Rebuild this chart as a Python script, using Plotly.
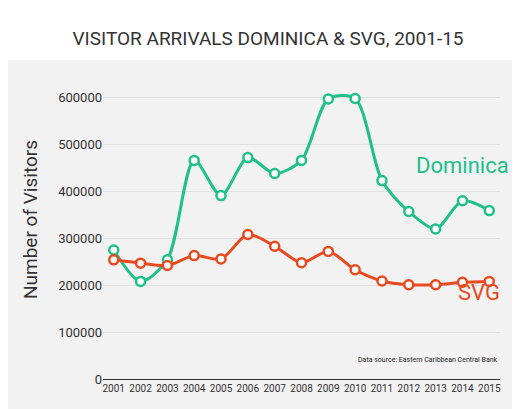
import plotly.graph_objects as go

years = list(range(2001, 2016))
dominica = [275000, 208000, 254000, 466000, 391000, 472000, 438000, 466000,
            597000, 598000, 423000, 357000, 320000, 380000, 359000]
svg = [254000, 247000, 242000, 263000, 256000, 308000, 283000, 248000,
       272000, 233000, 209000, 201000, 201000, 206000, 208000]

GREEN = "#20c08a"
RED = "#e84a1f"
BG = "#f2f2f2"

fig = go.Figure()
for name, vals, col in [("Dominica", dominica, GREEN), ("SVG", svg, RED)]:
    fig.add_trace(go.Scatter(
        x=years, y=vals, mode="lines+markers", name=name,
        line=dict(color=col, width=3, shape="spline", smoothing=0.8),
        marker=dict(size=9, color="white", line=dict(color=col, width=2.5)),
    ))

fig.add_annotation(x=2014.0, y=455000, text="Dominica", showarrow=False,
                   xanchor="center", yanchor="middle",
                   font=dict(color=GREEN, size=22, family="Roboto"))
fig.add_annotation(x=2014.6, y=215000, text="SVG", showarrow=False,
                   xanchor="center", yanchor="top",
                   font=dict(color=RED, size=22, family="Roboto"))
fig.add_annotation(x=1, y=0.04, xref="paper", yref="paper",
                   text="Data source: Eastern Caribbean Central Bank",
                   showarrow=False, xanchor="right", yanchor="bottom",
                   font=dict(size=7, color="#222"))

fig.add_shape(type="rect", xref="paper", yref="paper", x0=-0.3, x1=1.1,
              y0=1.0, y1=1.2, fillcolor="white", line_width=0, layer="below")

fig.update_layout(
    width=520, height=409, paper_bgcolor=BG, plot_bgcolor=BG,
    margin=dict(l=95, r=28, t=52, b=38),
    showlegend=False,
    font=dict(family="Roboto", color="#333"),
    title=dict(text="VISITOR ARRIVALS DOMINICA & SVG, 2001-15", x=0.5, y=0.925,
               xanchor="center", yanchor="middle", font=dict(size=19, color="#333")),
    xaxis=dict(tickmode="array", tickvals=years, range=[2000.6, 2015.4],
               showgrid=False, tickfont=dict(size=10), ticks="",
               showline=True, linecolor="#333", linewidth=1),
    yaxis=dict(range=[0, 680000], tickvals=[0, 100000, 200000, 300000, 400000, 500000, 600000],
               tickformat="d", gridcolor="#e0e0e0", zeroline=False,
               tickfont=dict(size=13),
               title=dict(text="Number of Visitors", font=dict(size=19))),
)

fig.write_html("out.html")
